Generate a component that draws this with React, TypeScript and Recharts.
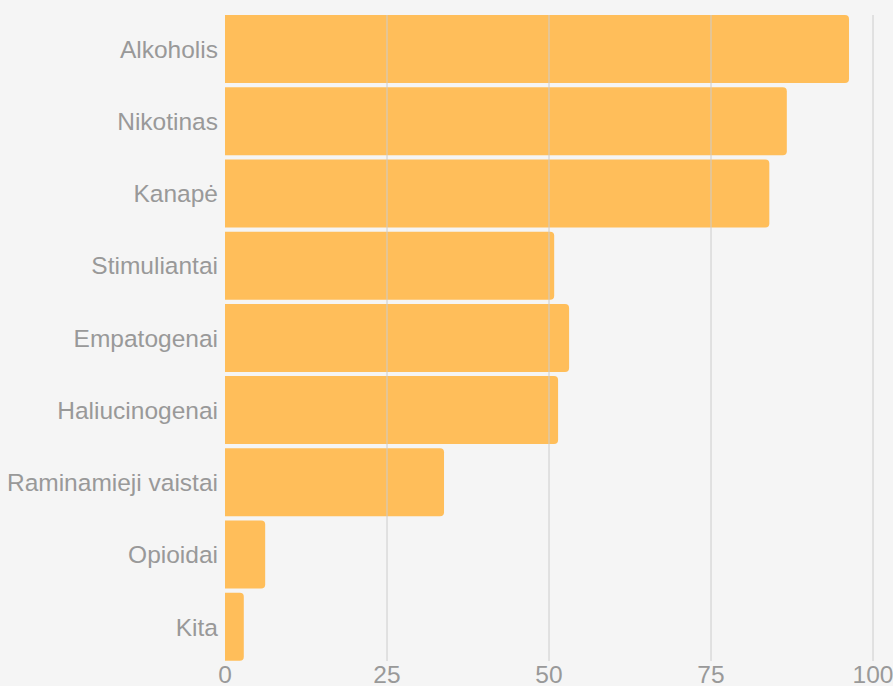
import { BarChart, Bar, XAxis, YAxis, ReferenceLine } from "recharts";

const categories = [
  "Alkoholis",
  "Nikotinas",
  "Kanapė",
  "Stimuliantai",
  "Empatogenai",
  "Haliucinogenai",
  "Raminamieji vaistai",
  "Opioidai",
  "Kita",
];

const values = [96.3, 86.7, 84.0, 50.8, 53.1, 51.4, 33.8, 6.2, 2.9];

const xTicks = [0, 25, 50, 75, 100];
const gridLines = [25, 50, 75, 100];

const data = categories.map((name, i) => ({ name, value: values[i] }));

const textStyle = {
  fontSize: 24.5,
  fill: "#999999",
  fontFamily: "'Liberation Sans', Arial, sans-serif",
};

export default function App() {
  return (
    <div
      style={{
        position: "absolute",
        left: 0,
        top: 0,
        width: 893,
        height: 686,
        background: "#f5f5f5",
        overflow: "hidden",
      }}
    >
      <BarChart
        width={893}
        height={686}
        data={data}
        layout="vertical"
        margin={{ top: 15, right: 20, left: 0, bottom: 0 }}
        barCategoryGap={2}
      >
        <XAxis
          type="number"
          domain={[0, 100]}
          ticks={xTicks}
          axisLine={false}
          tickLine={false}
          tickSize={0}
          tickMargin={5}
          height={25}
          tick={textStyle}
          interval={0}
        />
        <YAxis
          type="category"
          dataKey="name"
          width={225}
          axisLine={false}
          tickLine={false}
          tickSize={0}
          tickMargin={7}
          tick={textStyle}
          interval={0}
          padding={{ top: -2, bottom: -2 }}
        />
        {gridLines.map((v) => (
          <ReferenceLine key={v} x={v} stroke="#cccccc" strokeWidth={1} />
        ))}
        <Bar
          dataKey="value"
          fill="#ffbe5a"
          radius={[0, 4, 4, 0]}
          isAnimationActive={false}
        />
      </BarChart>
    </div>
  );
}
